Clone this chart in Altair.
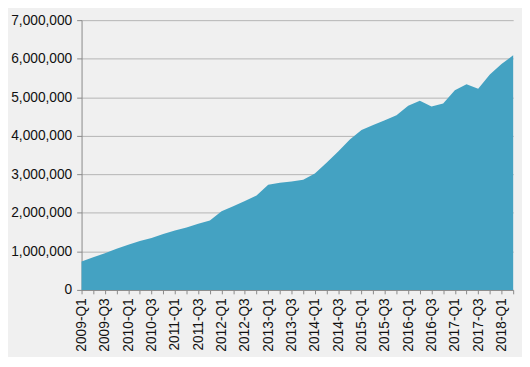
import altair as alt
import pandas as pd

quarters = [f"{y}-Q{q}" for y in range(2009, 2019) for q in range(1, 5)][:38]
values = [
    740000, 850000, 950000, 1070000, 1170000, 1270000, 1350000, 1450000,
    1540000, 1620000, 1720000, 1800000, 2040000, 2170000, 2310000, 2450000,
    2730000, 2780000, 2810000, 2860000, 3020000, 3300000, 3590000, 3900000,
    4150000, 4280000, 4400000, 4530000, 4780000, 4910000, 4760000, 4840000,
    5180000, 5340000, 5220000, 5590000, 5860000, 6090000,
]
y_ticks = [0, 1000000, 2000000, 3000000, 4000000, 5000000, 6000000, 7000000]

df = pd.DataFrame({"quarter": quarters, "value": values})

font = "Liberation Sans"

chart = alt.Chart(df).mark_area(color="#44a2c2", opacity=1).encode(
    x=alt.X(
        "quarter:O",
        sort=quarters,
        scale=alt.Scale(type="point", padding=0),
        axis=alt.Axis(
            title=None,
            labelAngle=270,
            labelAlign="right",
            labelBaseline="middle",
            labelExpr="(substring(datum.value, 5) == 'Q1' || substring(datum.value, 5) == 'Q3') ? datum.value : ''",
            labelFontSize=14,
            labelColor="#111",
            labelFont=font,
            labelPadding=4,
            tickSize=4,
            tickColor="#888",
            domainColor="#888",
            grid=False,
            labelOverlap=False,
        ),
    ),
    y=alt.Y(
        "value:Q",
        scale=alt.Scale(domain=[0, 7000000], nice=False),
        axis=alt.Axis(
            title=None,
            values=y_ticks,
            format=",.0f",
            labelFontSize=14,
            labelColor="#111",
            labelFont=font,
            labelPadding=5,
            tickSize=5,
            tickColor="#888",
            domainColor="#888",
            gridColor="#b4b4b4",
        ),
    ),
).properties(
    width=440,
    height=275,
    background="#f0f0f0",
    padding={"left": 2, "top": 2, "right": 2, "bottom": 2},
).configure_view(stroke=None)

chart.save("out.html", embed_options={"renderer": "svg", "actions": False})
